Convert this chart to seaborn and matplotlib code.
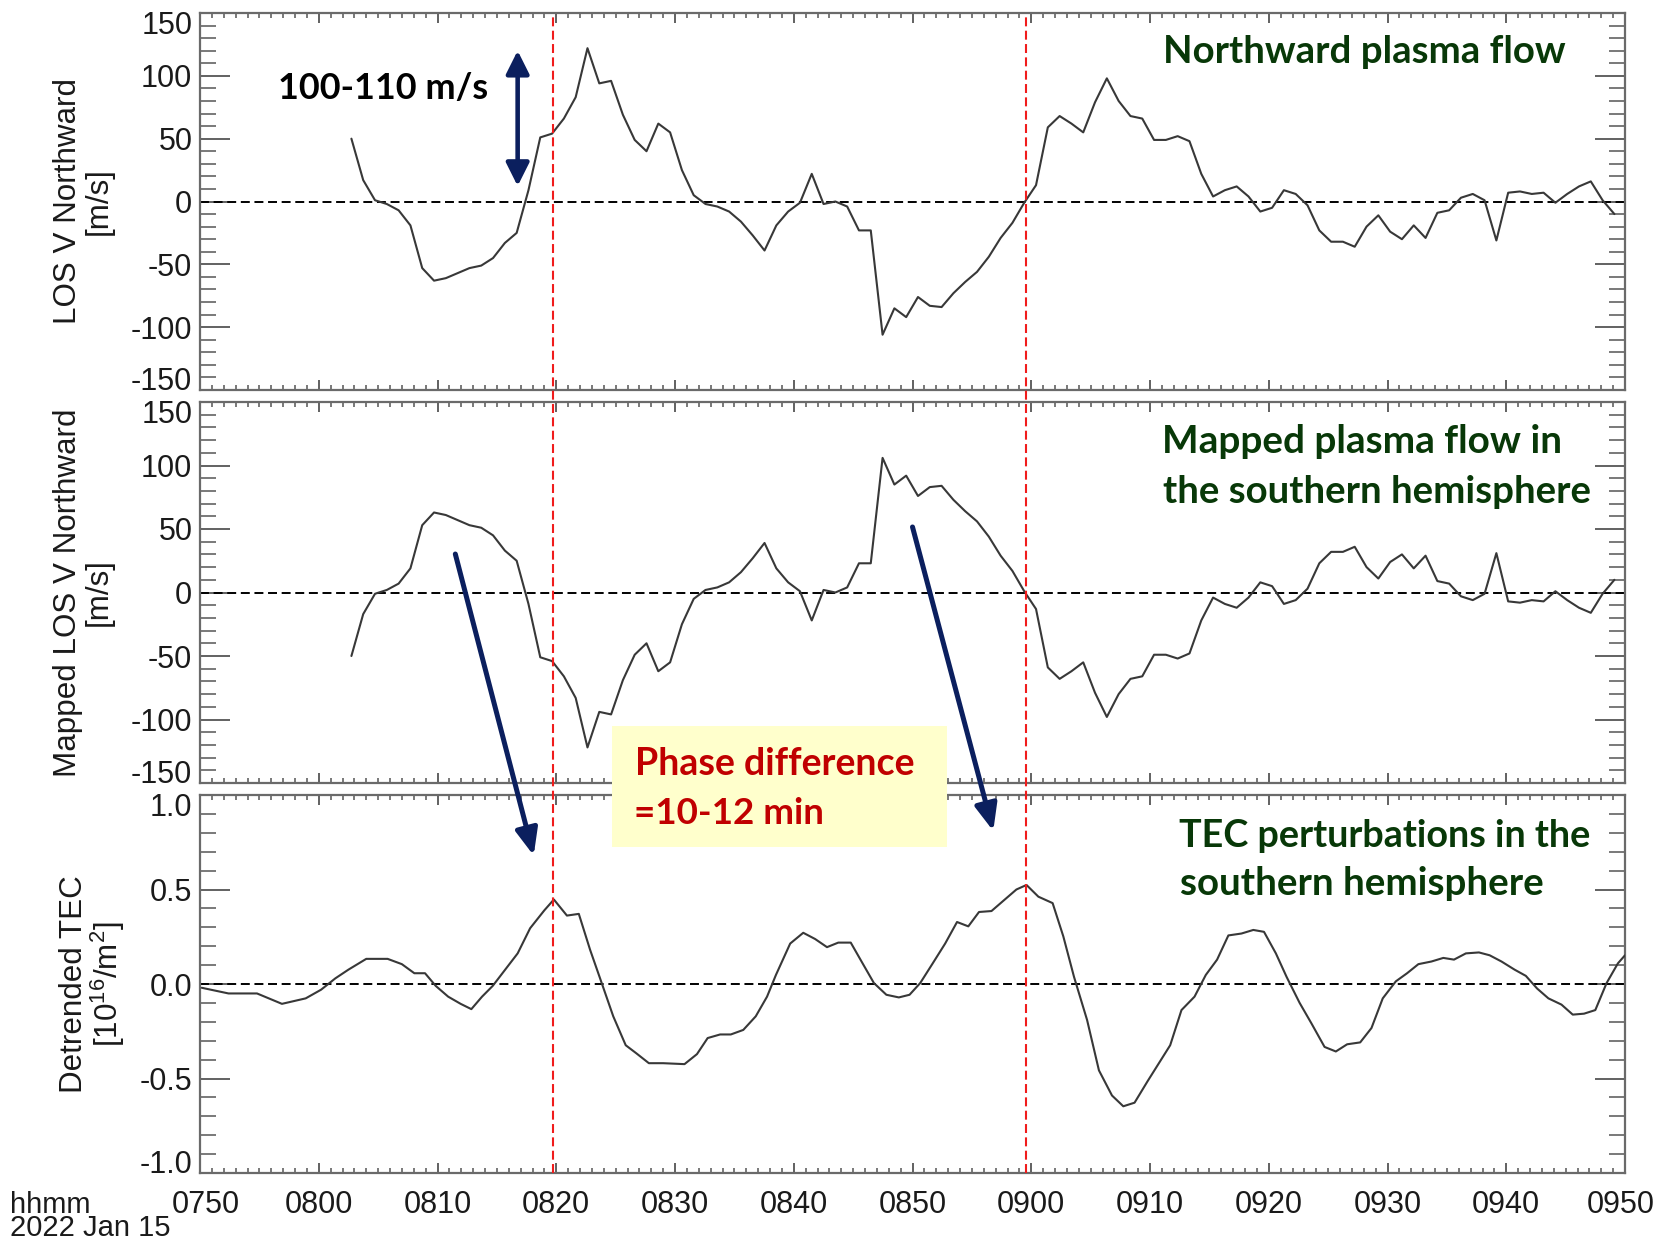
import matplotlib
matplotlib.use("Agg")
import matplotlib.pyplot as plt
import matplotlib.transforms as mtransforms
from matplotlib.lines import Line2D
from matplotlib.patches import Rectangle, ConnectionPatch, ArrowStyle
from matplotlib.ticker import MultipleLocator, FuncFormatter
import numpy as np
import seaborn as sns

# ---------------------------------------------------------------------------
# Data (time in minutes after 07:50 UT, 2022 Jan 15)
# ---------------------------------------------------------------------------
T_ORIGIN = 7 * 60 + 50          # 07:50 UT in minutes after midnight

# SuperDARN line-of-sight northward velocity, ~1-min scans from 08:02:45 UT
los_start = 12.75
los_cadence = 0.994
los_v = [50, 17, 1, -2, -7, -19, -53, -63, -61, -57,
         -53, -51, -45, -33, -25, 9, 51, 54, 66, 83,
         122, 94, 96, 69, 49, 40, 62, 55, 25, 5,
         -2, -4, -8, -16, -27, -39, -19, -8, -1, 22,
         -2, 0, -4, -23, -23, -106, -85, -92, -76, -83,
         -84, -73, -64, -56, -44, -29, -17, -1, 13, 59,
         68, 62, 55, 79, 98, 80, 68, 66, 49, 49,
         52, 48, 22, 4, 9, 12, 4, -8, -5, 9,
         6, -3, -23, -32, -32, -36, -20, -11, -24, -30,
         -19, -29, -9, -7, 3, 6, 1, -31, 7, 8,
         6, 7, -1, 6, 12, 16, 1, -10]
los_t = [los_start + los_cadence * i for i in range(len(los_v))]

# Flow mapped along the field line into the southern hemisphere
mapped_v = [-v for v in los_v]

# Detrended TEC in the southern hemisphere (1e16 / m^2)
tec_t = [0.15, 2.4, 4.8, 6.9, 8.9, 10.2, 11.4, 12.5, 14.0, 15.8,
         17.0, 18.05, 18.95, 19.85, 20.9, 21.95, 22.85, 23.75, 24.65, 25.7,
         26.75, 27.8, 29.0, 29.8, 30.9, 31.9, 32.85, 33.75, 34.8, 35.85,
         36.75, 37.8, 39.0, 40.8, 41.85, 42.75, 43.8, 44.7, 45.75, 46.8,
         47.75, 48.5, 49.7, 50.8, 51.8, 52.8, 53.75, 54.8, 55.8, 56.75,
         57.8, 58.85, 59.75, 60.65, 61.7, 62.75, 63.75, 64.7, 65.6, 66.65,
         67.7, 68.75, 69.6, 70.6, 71.8, 72.7, 73.6, 74.7, 75.7, 76.8,
         77.75, 78.7, 79.8, 80.75, 81.7, 82.65, 83.75, 84.7, 85.65, 86.6,
         87.7, 88.7, 89.6, 90.6, 91.5, 92.6, 93.6, 94.7, 95.65, 96.6,
         97.7, 98.65, 99.6, 100.7, 101.65, 102.6, 103.7, 104.7, 105.6, 106.6,
         107.7, 108.6, 109.6, 110.7, 111.65, 112.6, 113.55, 114.65, 115.6, 116.55,
         117.5, 118.45, 119.4, 120.0]
tec_v = [-0.02, -0.05, -0.05, -0.105, -0.076, -0.03, 0.03, 0.076, 0.133, 0.133,
         0.105, 0.057, 0.057, -0.01, -0.067, -0.105, -0.133, -0.067, -0.01, 0.076,
         0.162, 0.295, 0.39, 0.447, 0.362, 0.371, 0.181, 0.019, -0.171, -0.324,
         -0.367, -0.419, -0.419, -0.424, -0.371, -0.286, -0.267, -0.267, -0.243, -0.171,
         -0.067, 0.048, 0.214, 0.271, 0.238, 0.195, 0.219, 0.219, 0.109, 0.005,
         -0.057, -0.071, -0.057, 0.005, 0.109, 0.214, 0.328, 0.305, 0.381, 0.386,
         0.443, 0.5, 0.524, 0.462, 0.428, 0.252, 0.038, -0.19, -0.457, -0.59,
         -0.647, -0.628, -0.514, -0.419, -0.324, -0.138, -0.067, 0.048, 0.129, 0.257,
         0.267, 0.286, 0.276, 0.162, 0.038, -0.1, -0.209, -0.333, -0.357, -0.319,
         -0.309, -0.233, -0.076, 0.014, 0.057, 0.105, 0.119, 0.138, 0.129, 0.162,
         0.167, 0.152, 0.119, 0.076, 0.043, -0.024, -0.076, -0.109, -0.162, -0.157,
         -0.138, 0.005, 0.109, 0.152]

# TEC peak times marked across all panels
peak_times = [29.73, 69.57]

# Annotation anchors in data units
range_arrow_t = 26.75
range_arrow_v = (12.3, 120.0)
lag_arrows = [((21.5, 30.3), (28.1, 0.68)),
              ((60.0, 51.6), (66.8, 0.81))]

panel_titles = [["Northward plasma flow"],
                ["Mapped plasma flow in", "the southern hemisphere"],
                ["TEC perturbations in the", "southern hemisphere"]]
ylabels = ["LOS V Northward\n[m/s]",
           "Mapped LOS V Northward\n[m/s]",
           "Detrended TEC\n" + r"[10$^{16}$/m$^{2}$]"]

# ---------------------------------------------------------------------------
# Style
# ---------------------------------------------------------------------------
sns.set_theme(style="ticks")
plt.rcParams["font.family"] = ["Liberation Sans", "DejaVu Sans"]
plt.rcParams["axes.unicode_minus"] = False
plt.rcParams["mathtext.fontset"] = "custom"
plt.rcParams["mathtext.rm"] = "Liberation Sans"
plt.rcParams["mathtext.it"] = "Liberation Sans:italic"
plt.rcParams["mathtext.bf"] = "Liberation Sans:bold"

FIG_W, FIG_H = 1670, 1243
fig = plt.figure(figsize=(FIG_W / 100, FIG_H / 100), dpi=100)
fig.patch.set_facecolor("white")

LEFT, RIGHT = 200, 1625
panel_px = [(13, 390), (402, 783), (795, 1173)]   # (top, bottom) in pixels
axes = []
for top, bot in panel_px:
    ax = fig.add_axes([LEFT / FIG_W, 1 - bot / FIG_H,
                       (RIGHT - LEFT) / FIG_W, (bot - top) / FIG_H])
    axes.append(ax)
ax1, ax2, ax3 = axes

LINE_C = "#383838"
SPINE_C = "#6a6a6a"
TICK_C = "#555555"
NAVY = "#0b1f5e"
GREEN = "#083808"
DARKRED = "#c00000"
TEXT_C = "#1a1a1a"

series = [(los_t, los_v), (los_t, mapped_v), (tec_t, tec_v)]
for ax, (xs, ys) in zip(axes, series):
    sns.lineplot(x=xs, y=ys, ax=ax, color=LINE_C, linewidth=1.5,
                 estimator=None, sort=False, legend=False, zorder=3)
    ax.axhline(0, color="black", lw=1.4, ls=(0, (4.6, 2.4)), zorder=2)
    ax.set_xlim(0, 120)
    ax.set_xlabel("")
    ax.set_ylabel("")
    ax.set_facecolor("white")
    for sp in ax.spines.values():
        sp.set_visible(True)
        sp.set_color(SPINE_C)
        sp.set_linewidth(1.6)
    ax.xaxis.set_major_locator(MultipleLocator(10))
    ax.xaxis.set_minor_locator(MultipleLocator(1))
    ax.tick_params(which="both", direction="in", top=True, right=True,
                   color=TICK_C, labelcolor=TEXT_C, labelsize=22)
    ax.tick_params(axis="x", which="major", length=7.5, width=1.3, pad=12.5)
    ax.tick_params(axis="x", which="minor", length=3.6, width=1.1)
    ax.tick_params(axis="y", which="major", length=21.5, width=1.3, pad=5.5)
    ax.tick_params(axis="y", which="minor", length=11.5, width=1.1)

for ax in (ax1, ax2):
    ax.set_ylim(-150, 150)
    ax.yaxis.set_major_locator(MultipleLocator(50))
    ax.yaxis.set_minor_locator(MultipleLocator(10))
    ax.tick_params(labelbottom=False)

ax3.set_ylim(-1.0, 1.0)
ax3.yaxis.set_major_locator(MultipleLocator(0.5))
ax3.yaxis.set_minor_locator(MultipleLocator(0.1))
ax3.yaxis.set_major_formatter(FuncFormatter(lambda v, _: f"{v:.1f}"))


def hhmm(x, _):
    m = int(round(T_ORIGIN + x))
    return f"{m // 60:02d}{m % 60:02d}"


ax3.xaxis.set_major_formatter(FuncFormatter(hhmm))

# Red dashed markers at the TEC peaks, spanning all panels
blend = mtransforms.blended_transform_factory(ax3.transData, fig.transFigure)
for pt in peak_times:
    fig.add_artist(Line2D([pt, pt], [1 - panel_px[2][1] / FIG_H, 1 - panel_px[0][0] / FIG_H],
                          transform=blend, color="#f01c1c", lw=1.5,
                          ls=(0, (4.3, 2.1)), zorder=3))

# Axis titles (two lines each, rotated)
ylabel_x = [83.5, 83.5, 93]
ylabel_ls = [1.06, 1.06, 0.98]
for (top, bot), lab, xc, ls in zip(panel_px, ylabels, ylabel_x, ylabel_ls):
    yc = 1 - (top + bot) / 2 / FIG_H
    fig.text(xc / FIG_W, yc, lab, rotation=90, ha="center", va="center",
             multialignment="center", linespacing=ls,
             fontsize=22.6, color=TEXT_C)

fig.text(10 / FIG_W, 1 - 1191 / FIG_H, "hhmm\n2022 Jan 15", ha="left", va="top",
         linespacing=0.78, fontsize=21, color=TEXT_C)

renderer = fig.canvas.get_renderer()


def fitted_text(x_px, base_px, s, width_px, color, zorder=6):
    t = fig.text(x_px / FIG_W, 1 - base_px / FIG_H, s, fontsize=30,
                 family=["Lato", "DejaVu Sans"], fontweight="bold",
                 color=color, ha="left", va="baseline", zorder=zorder)
    w = t.get_window_extent(renderer).width
    t.set_fontsize(30 * width_px / w)
    return t


# Panel descriptions
fitted_text(1163, 63, panel_titles[0][0], 401, GREEN)
fitted_text(1162, 453, panel_titles[1][0], 399, GREEN)
fitted_text(1163, 503, panel_titles[1][1], 428, GREEN)
fitted_text(1179, 847, panel_titles[2][0], 412, GREEN)
fitted_text(1180, 895, panel_titles[2][1], 363, GREEN)

# Amplitude arrow in the top panel
fitted_text(278, 99, "100-110 m/s", 210, "black")
ax1.annotate("", xy=(range_arrow_t, range_arrow_v[1]),
             xytext=(range_arrow_t, range_arrow_v[0]),
             arrowprops=dict(arrowstyle=ArrowStyle("<|-|>", head_length=1.0, head_width=0.5),
                             mutation_scale=14, color=NAVY, lw=3.3,
                             shrinkA=0, shrinkB=0),
             zorder=6)

# Phase-difference box
fig.add_artist(Rectangle((612 / FIG_W, 1 - 847 / FIG_H), 335 / FIG_W, 121 / FIG_H,
                         transform=fig.transFigure, facecolor="#ffffcc",
                         edgecolor="none", zorder=4))
fitted_text(635, 775, "Phase difference", 280, DARKRED)
fitted_text(634, 824, "=10-12 min", 190, DARKRED)

# Lag arrows from the mapped flow maxima to the TEC peaks
for (pa, pb) in lag_arrows:
    con = ConnectionPatch(xyA=pa, coordsA=ax2.transData,
                          xyB=pb, coordsB=ax3.transData,
                          arrowstyle=ArrowStyle("-|>", head_length=1.0, head_width=0.42),
                          mutation_scale=16, color=NAVY, lw=3.6,
                          shrinkA=0, shrinkB=0, zorder=7)
    fig.add_artist(con)

# Nudge the end tick labels inward so neighbouring panels do not collide
fig.canvas.draw()
to_pts = fig.dpi_scale_trans
for ax in axes:
    lo, hi = ax.get_ylim()
    for tick, loc in zip(ax.yaxis.get_major_ticks(), ax.yaxis.get_majorticklocs()):
        if np.isclose(loc, hi):
            dy = -6.5
        elif np.isclose(loc, lo):
            dy = 8.0
        else:
            continue
        lab = tick.label1
        lab.set_transform(lab.get_transform() +
                          mtransforms.ScaledTranslation(0, dy / 72, to_pts))

xlo, xhi = ax3.get_xlim()
for tick, loc in zip(ax3.xaxis.get_major_ticks(), ax3.xaxis.get_majorticklocs()):
    if np.isclose(loc, xlo):
        dx = 4.5
    elif np.isclose(loc, xhi):
        dx = -3.0
    else:
        continue
    lab = tick.label1
    lab.set_transform(lab.get_transform() +
                      mtransforms.ScaledTranslation(dx / 72, 0, to_pts))

fig.savefig("out.png", dpi=100, facecolor="white")
